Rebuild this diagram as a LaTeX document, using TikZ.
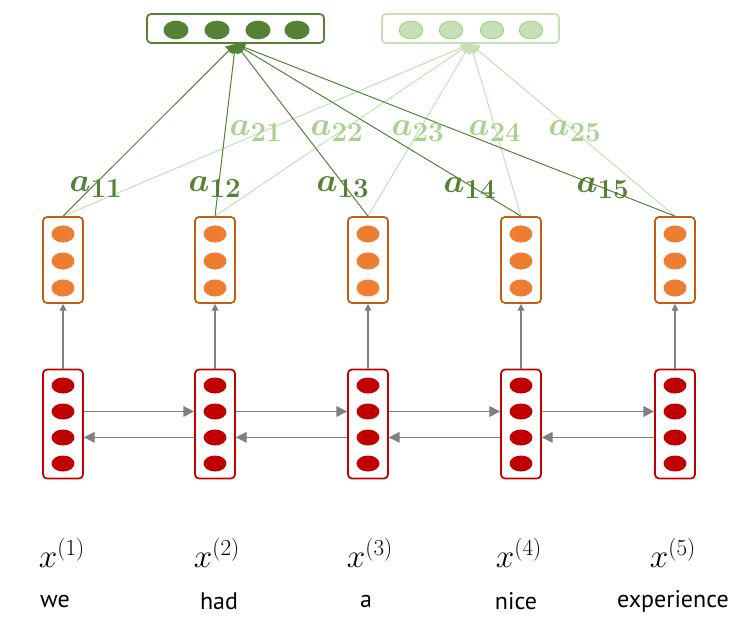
\documentclass[tikz,border=0pt]{standalone}
\usepackage{fontspec}
\setmainfont{PT Sans}
\usetikzlibrary{arrows.meta}

\definecolor{dkgreen}{HTML}{548235}
\definecolor{ltgreen}{HTML}{A9D18E}
\definecolor{ltgreenfill}{HTML}{C5E0B4}
\definecolor{orfill}{HTML}{ED7D31}
\definecolor{ordraw}{HTML}{C55A11}
\definecolor{redvec}{HTML}{C00000}
\definecolor{arrgray}{HTML}{808080}

\tikzset{
  vecbox/.style={draw, rounded corners=3pt, line width=1.3pt, inner sep=0pt, minimum width=30pt},
  ctxbox/.style={vecbox, minimum width=132.75pt, minimum height=21.75pt},
  attbox/.style={vecbox, draw=ordraw, minimum height=64.5pt},
  hidbox/.style={vecbox, draw=redvec, minimum height=81.75pt},
  grayarr/.style={->, draw=arrgray, line width=0.8pt, >={Triangle[length=8pt,width=8pt]}},
  uparr/.style={->, draw=arrgray, line width=0.8pt, >={Triangle[length=5pt,width=5pt]}},
  attn/.style={->, line width=0.75pt, >={Triangle[length=7pt,width=8pt]}},
  wlabel/.style={font=\fontsize{28}{32}\selectfont\boldmath},
  xlabel/.style={font=\fontsize{26}{30}\selectfont},
  word/.style={font=\fontsize{18}{22}\selectfont},
}

\begin{document}
\begin{tikzpicture}[x=0.75pt,y=-0.75pt]
    \useasboundingbox (0,0) rectangle (754,633);

    % context vectors
    \node [ctxbox, draw=dkgreen] (c1) at (235.5,28.5) {};
    \node [ctxbox, draw=ltgreenfill] (c2) at (470.5,28.5) {};
    \foreach \x in {176,217,258,297}
        \fill [dkgreen] (\x,30) ellipse (9.4pt and 7pt);
    \foreach \x in {411,451,492,531}
        \filldraw [fill=ltgreenfill, draw=ltgreen, line width=0.8pt] (\x,30) ellipse (8.8pt and 6.6pt);

    % attention layer
    \node [attbox] (s1) at (63,260) {};
    \node [attbox] (s2) at (215,260) {};
    \node [attbox] (s3) at (368,260) {};
    \node [attbox] (s4) at (521,260) {};
    \node [attbox] (s5) at (675,260) {};

    % bidirectional hidden states
    \node [hidbox] (h1) at (63,424) {};
    \node [hidbox] (h2) at (215,424) {};
    \node [hidbox] (h3) at (368,424) {};
    \node [hidbox] (h4) at (521,424) {};
    \node [hidbox] (h5) at (675,424) {};

    \foreach \x in {63,215,368,521,675} {
        \foreach \y in {234,261,288}
            \fill [orfill] (\x,\y) ellipse (8.6pt and 6.4pt);
        \foreach \y in {385.5,411.5,437.5,463.5}
            \fill [redvec] (\x,\y) ellipse (8.6pt and 6pt);
    }

    \draw[grayarr] ([yshift=9.4pt]h1.east) -- ([yshift=9.4pt]h2.west);
    \draw[grayarr] ([yshift=9.4pt]h2.east) -- ([yshift=9.4pt]h3.west);
    \draw[grayarr] ([yshift=9.4pt]h3.east) -- ([yshift=9.4pt]h4.west);
    \draw[grayarr] ([yshift=9.4pt]h4.east) -- ([yshift=9.4pt]h5.west);
    \draw[grayarr] ([yshift=-10pt]h2.west) -- ([yshift=-10pt]h1.east);
    \draw[grayarr] ([yshift=-10pt]h3.west) -- ([yshift=-10pt]h2.east);
    \draw[grayarr] ([yshift=-10pt]h4.west) -- ([yshift=-10pt]h3.east);
    \draw[grayarr] ([yshift=-10pt]h5.west) -- ([yshift=-10pt]h4.east);

    \draw[uparr] (h1) -- (s1);
    \draw[uparr] (h2) -- (s2);
    \draw[uparr] (h3) -- (s3);
    \draw[uparr] (h4) -- (s4);
    \draw[uparr] (h5) -- (s5);

    % attention weights
    \draw[attn, ltgreenfill] (s1.north) -- (c2.south);
    \draw[attn, ltgreenfill] (s2.north) -- (c2.south);
    \draw[attn, ltgreenfill] (s3.north) -- (c2.south);
    \draw[attn, ltgreenfill] (s4.north) -- (c2.south);
    \draw[attn, ltgreenfill] (s5.north) -- (c2.south);
    \draw[attn, dkgreen] (s1.north) -- (c1.south);
    \draw[attn, dkgreen] (s2.north) -- (c1.south);
    \draw[attn, dkgreen] (s3.north) -- (c1.south);
    \draw[attn, dkgreen] (s4.north) -- (c1.south);
    \draw[attn, dkgreen] (s5.north) -- (c1.south);

    \node [wlabel, text=dkgreen] (a11) at (96,187) {$a_{11}$};
    \node [wlabel, text=dkgreen] (a12) at (215,187) {$a_{12}$};
    \node [wlabel, text=dkgreen] (a13) at (343,187) {$a_{13}$};
    \node [wlabel, text=dkgreen] (a14) at (470,188) {$a_{14}$};
    \node [wlabel, text=dkgreen] (a15) at (603,188) {$a_{15}$};
    \node [wlabel, text=ltgreen] (a21) at (256,131) {$a_{21}$};
    \node [wlabel, text=ltgreen] (a22) at (337,131) {$a_{22}$};
    \node [wlabel, text=ltgreen] (a23) at (418,131) {$a_{23}$};
    \node [wlabel, text=ltgreen] (a24) at (495,131) {$a_{24}$};
    \node [wlabel, text=ltgreen] (a25) at (575,131) {$a_{25}$};

    % inputs
    \node [xlabel] (x1) at (62,553) {$x^{(1)}$};
    \node [xlabel] (x2) at (217,553) {$x^{(2)}$};
    \node [xlabel] (x3) at (370,553) {$x^{(3)}$};
    \node [xlabel] (x4) at (519,553) {$x^{(4)}$};
    \node [xlabel] (x5) at (673,553) {$x^{(5)}$};
    \node [word] (w1) at (55,601) {we};
    \node [word] (w2) at (219,601) {had};
    \node [word] (w3) at (366,601) {a};
    \node [word] (w4) at (516,601) {nice};
    \node [word] (w5) at (673,601) {experience};
\end{tikzpicture}
\end{document}
